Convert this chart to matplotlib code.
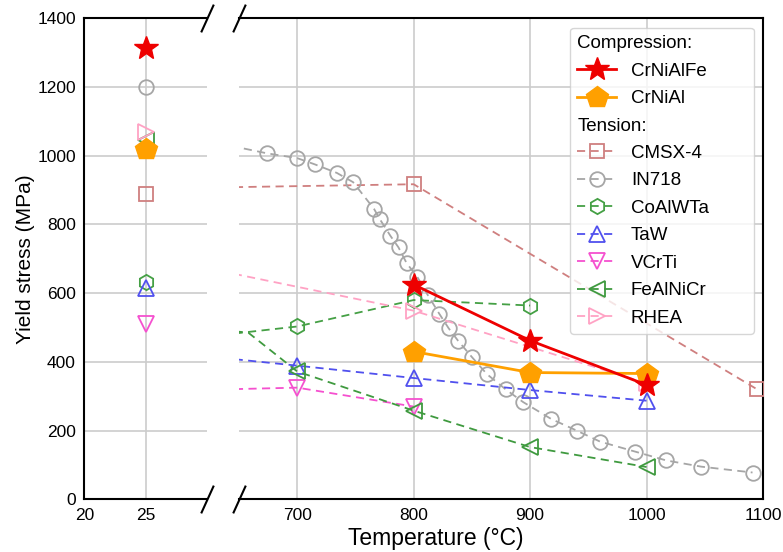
import matplotlib
matplotlib.use("Agg")
import matplotlib.pyplot as plt
from matplotlib.lines import Line2D

plt.rcParams["font.family"] = ["Liberation Sans", "DejaVu Sans"]

# ---- data: yield stress (MPa) versus temperature (°C) ----
series_names = ["CrNiAlFe", "CrNiAl", "CMSX-4", "IN718", "CoAlWTa",
                "TaW", "VCrTi", "FeAlNiCr", "RHEA"]

# room-temperature values (25 °C)
rt_temperature = 25
rt_stress = [1315, 1020, 890, 1200, 633, 616, 510, 1045, 1070]

# elevated-temperature data
crnialfe_T = [800, 900, 1000]
crnialfe_s = [625, 462, 333]

crnial_T = [800, 900, 1000]
crnial_s = [430, 369, 366]

cmsx4_T = [600, 800, 1095]
cmsx4_s = [906, 917, 320]

in718_T = [620, 674, 700, 715, 734, 748, 766, 771, 780, 787, 794, 803, 812,
           822, 830, 838, 850, 863, 879, 894, 918, 940, 960, 990, 1017, 1047,
           1091]
in718_s = [1045, 1007, 993, 975, 950, 923, 845, 815, 767, 733, 687, 648, 595,
           540, 498, 462, 414, 364, 320, 283, 234, 200, 168, 139, 113, 95, 78]

coalwta_T = [600, 700, 800, 900]
coalwta_s = [465, 503, 580, 564]

taw_T = [600, 700, 800, 900, 1000]
taw_s = [424, 389, 353, 318, 287]

vcrti_T = [600, 700, 800]
vcrti_s = [317, 325, 270]

fealnicr_T = [600, 658, 700, 800, 900, 1000]
fealnicr_s = [505, 485, 372, 258, 152, 94]

rhea_T = [600, 800, 1000]
rhea_s = [688, 549, 338]

# ---- styles ----
styles = {
    "CrNiAlFe": dict(color="#ee0000", marker="*", ms=18, ls="-", lw=2.0,
                     mfc="#ee0000", mec="#ee0000", zorder=6),
    "CrNiAl":   dict(color="#ffa000", marker="p", ms=16, ls="-", lw=2.0,
                     mfc="#ffa000", mec="#ffa000", zorder=5),
    "CMSX-4":   dict(color="#cf7f7f", marker="s", ms=10.5),
    "IN718":    dict(color="#a6a6a6", marker="o", ms=10.5),
    "CoAlWTa":  dict(color="#45a045", marker="h", ms=11),
    "TaW":      dict(color="#5050ee", marker="^", ms=11),
    "VCrTi":    dict(color="#f550cf", marker="v", ms=11),
    "FeAlNiCr": dict(color="#3f9a3f", marker="<", ms=11),
    "RHEA":     dict(color="#ffa2c4", marker=">", ms=11),
}
for name in series_names[2:]:
    st = styles[name]
    st.update(ls=(0, (4.5, 3)), lw=1.3, mfc="none", mec=st["color"], mew=1.3,
              zorder=3)

high_T = {
    "CrNiAlFe": (crnialfe_T, crnialfe_s),
    "CrNiAl": (crnial_T, crnial_s),
    "CMSX-4": (cmsx4_T, cmsx4_s),
    "IN718": (in718_T, in718_s),
    "CoAlWTa": (coalwta_T, coalwta_s),
    "TaW": (taw_T, taw_s),
    "VCrTi": (vcrti_T, vcrti_s),
    "FeAlNiCr": (fealnicr_T, fealnicr_s),
    "RHEA": (rhea_T, rhea_s),
}
# markers shown only on these points (others are line vertices only)
mark_every = {"FeAlNiCr": [2, 3, 4, 5]}

W, H = 783, 552
fig = plt.figure(figsize=(W / 100, H / 100), dpi=100)
bottom = 1 - 499.3 / H
height = (499.3 - 18.3) / H
ax1 = fig.add_axes([84.3 / W, bottom, (206.7 - 84.3) / W, height])
ax2 = fig.add_axes([239 / W, bottom, (763 - 239) / W, height])

handles = {}
for name, rt in zip(series_names, rt_stress):
    st = dict(styles[name])
    ax1.plot([rt_temperature], [rt], ls="none",
             **{k: v for k, v in st.items() if k not in ("ls", "lw")})
    T, s = high_T[name]
    h, = ax2.plot(T, s, label=name, markevery=mark_every.get(name), **st)
    handles[name] = h

ax1.set_xlim(20, 30)
ax2.set_xlim(650, 1100)
for ax in (ax1, ax2):
    ax.set_ylim(0, 1400)
    ax.set_yticks(range(0, 1401, 200))
    ax.grid(True, color="#cccccc", lw=1.2)
    ax.set_axisbelow(True)
    ax.tick_params(length=0, pad=6, labelsize=12.5)
    for sp in ax.spines.values():
        sp.set_linewidth(1.5)
        sp.set_color("black")
ax1.set_xticks([20, 25])
ax2.set_xticks([700, 800, 900, 1000, 1100])
ax2.tick_params(labelleft=False)
ax1.spines["right"].set_visible(False)
ax2.spines["left"].set_visible(False)

ax1.set_ylabel("Yield stress (MPa)", fontsize=15, labelpad=2)
fig.text(436 / W, 1 - 538 / H, "Temperature (°C)", fontsize=16.5,
         ha="center", va="center")

# break marks on the cut x-axis
brk = dict(marker=[(-1, -2.2), (1, 2.2)], markersize=20, linestyle="none",
           color="k", mec="k", mew=1.5, clip_on=False)
ax1.plot([1, 1], [0, 1], transform=ax1.transAxes, **brk)
ax2.plot([0, 0], [0, 1], transform=ax2.transAxes, **brk)

# legend with group headers
header = Line2D([], [], ls="none")
leg_handles = [header, handles["CrNiAlFe"], handles["CrNiAl"], header] + \
    [handles[n] for n in series_names[2:]]
leg_labels = ["Compression:", "CrNiAlFe", "CrNiAl", "Tension:"] + series_names[2:]
leg = ax2.legend(leg_handles, leg_labels, loc="upper right", fontsize=13.5,
                 handlelength=2.05, borderpad=0.4, labelspacing=0.55,
                 framealpha=0.8)
leg.set_zorder(10)

# headers start at the handle column; keep the full column width
fig.canvas.draw()
renderer = fig.canvas.get_renderer()
for vpack in leg._legend_handle_box.get_children():
    col_width = vpack.get_bbox(renderer).width
    for hpack in vpack.get_children():
        da, ta = hpack.get_children()
        if ta.get_text() in ("Compression:", "Tension:"):
            da.set_width(0)
            hpack.sep = 0
    vpack.width = col_width
    vpack.align = "left"

fig.savefig("out.png", dpi=100)
